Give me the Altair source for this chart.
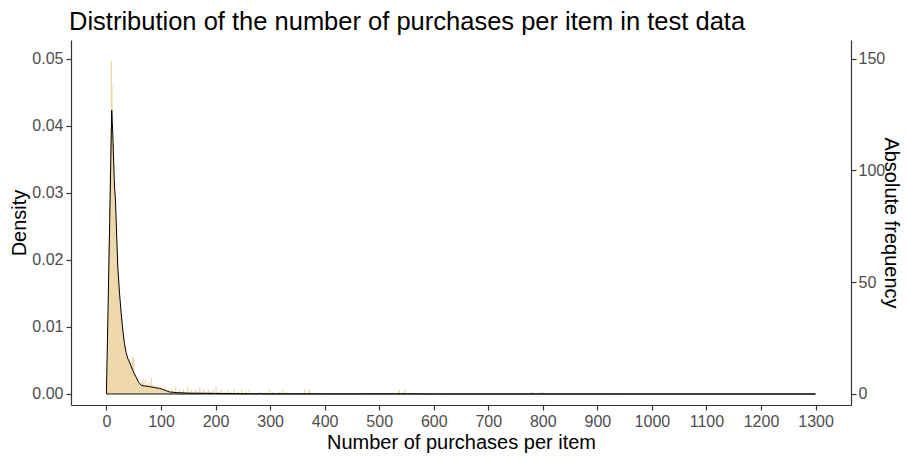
import altair as alt
import pandas as pd

# ---- data ----
N_ITEMS = 3000  # count = density * N (binwidth 1)

# kernel density estimate (x, density)
dens_x = [0, 3, 6, 8, 9.7, 11.6, 14.7, 16.5, 20.8, 24, 27, 30, 33, 36, 39, 42, 45, 48,
          51, 54.5, 58, 60.5, 63.6, 70, 79, 88, 97, 106, 115.6, 130, 152, 180, 200,
          230, 260, 281, 300, 325, 370, 400, 540, 600, 780, 800, 1000, 1300]
dens_y = [0.0005, 0.013, 0.026, 0.035, 0.0423, 0.0388, 0.031, 0.0289, 0.0189, 0.015,
          0.012, 0.0095, 0.0075, 0.0062, 0.0053, 0.0048, 0.0042, 0.0036, 0.0030, 0.0025,
          0.0019, 0.0016, 0.0013, 0.0012, 0.0011, 0.00095, 0.00085, 0.0006, 0.0003,
          0.0002, 0.00012, 0.0001, 0.00009, 0.00005, 0.00003, 0.00004, 0.00002, 0.00002,
          0.00002, 0.00001, 0.00002, 0.000005, 0.00001, 0.00001, 0.000003, 0.000002]

# histogram: number of purchases (value) and number of items (count)
hist_v = list(range(1, 101)) + [103, 106, 108, 111, 114, 117, 120, 124, 127, 131, 134, 138,
          141, 145, 149, 152, 156, 160, 163, 167, 171, 175, 178, 183, 187, 192, 196, 201,
          206, 211, 216, 222, 228, 234, 241, 248, 255, 262, 281, 299, 305, 318, 324, 330,
          363, 372, 537, 547, 779, 799]
hist_c = [5, 14, 30, 50, 68, 85, 100, 118, 149, 138, 120, 112, 104, 96, 88, 84, 76, 68, 62, 56,
          53, 49, 46, 43, 40, 38, 36, 33, 30, 28, 26, 24, 22, 21, 20, 19, 17, 16, 16, 15,
          14, 15, 13, 13, 12, 12, 10, 17, 9, 16, 8, 7, 9, 6, 7, 5, 6, 4, 5, 4,
          3, 5, 4, 3, 4, 6, 3, 5, 2, 4, 3, 6, 3, 2, 4, 3, 2, 5, 2, 3,
          2, 7, 2, 3, 2, 4, 1, 3, 2, 4, 2, 3, 1, 2, 3, 2, 1, 2, 1, 3] + \
         [2, 1, 3, 1, 2, 1, 2, 1, 3, 1, 2, 1, 2, 1, 3, 1, 2, 1, 2, 1, 3, 1, 2, 1, 2, 1, 2, 3,
          1, 2, 1, 2, 1, 2, 1, 2, 1, 2, 1, 2, 1, 1, 2, 1, 2, 2, 2, 2, 1, 1]

x_ticks = list(range(0, 1301, 100))
dens_ticks = [0, 0.01, 0.02, 0.03, 0.04, 0.05]
freq_ticks = [0, 50, 100, 150]

dens_df = pd.DataFrame({"x": dens_x, "d": dens_y})
hist_df = pd.DataFrame({"v": hist_v, "c": hist_c})

FONT = "Liberation Sans"
x_dom = [-65, 1365]
d_dom = [-0.00164, 0.05276]
c_dom = [d_dom[0] * N_ITEMS, d_dom[1] * N_ITEMS]

common = dict(grid=False, labelFontSize=16, labelColor="#4D4D4D", titleFontSize=20,
              titleColor="black", tickColor="#333333", domainColor="#333333",
              tickSize=5, labelFont=FONT, titleFont=FONT, titleFontWeight="normal",
              labelFlush=False)

x_axis = alt.Axis(values=x_ticks, format="d", title="Number of purchases per item",
                  labelPadding=3, titlePadding=3, **common)

x_scale = alt.Scale(domain=x_dom, nice=False, zero=False, padding=0)

hist = alt.Chart(hist_df).mark_bar(color="#EFD6A6", opacity=1, width=1.3).encode(
    x=alt.X("v:Q", scale=x_scale, axis=x_axis),
    y=alt.Y("c:Q", scale=alt.Scale(domain=c_dom, nice=False, zero=False, padding=0),
            axis=alt.Axis(orient="right", values=freq_ticks, title="Absolute frequency",
                          labelPadding=2, titlePadding=-4, **common)),
    y2=alt.datum(0),
)

d_axis = alt.Axis(orient="left", values=dens_ticks, format=".2f", title="Density",
                  labelPadding=3, titlePadding=2, **common)

area = alt.Chart(dens_df).mark_area(fill="#EED8AC", fillOpacity=0.9, stroke="black",
                                    strokeWidth=1, interpolate="linear").encode(
    x=alt.X("x:Q", scale=x_scale),
    y=alt.Y("d:Q", scale=alt.Scale(domain=d_dom, nice=False, zero=False), axis=d_axis),
)

chart = alt.layer(hist, area).resolve_scale(y="independent").properties(
    width=780, height=365,
    title=alt.TitleParams("Distribution of the number of purchases per item in test data",
                          anchor="start", frame="group", fontSize=25.5, font=FONT,
                          fontWeight="normal", color="black", offset=5, dx=-2),
    autosize=alt.AutoSizeParams(type="none"),
    padding={"left": 71, "top": 40, "right": 56, "bottom": 51},
).configure_view(stroke=None).configure_axis(domainWidth=1.2, tickWidth=1.2)

chart.save("out.html", embed_options={"renderer": "svg", "actions": False})
